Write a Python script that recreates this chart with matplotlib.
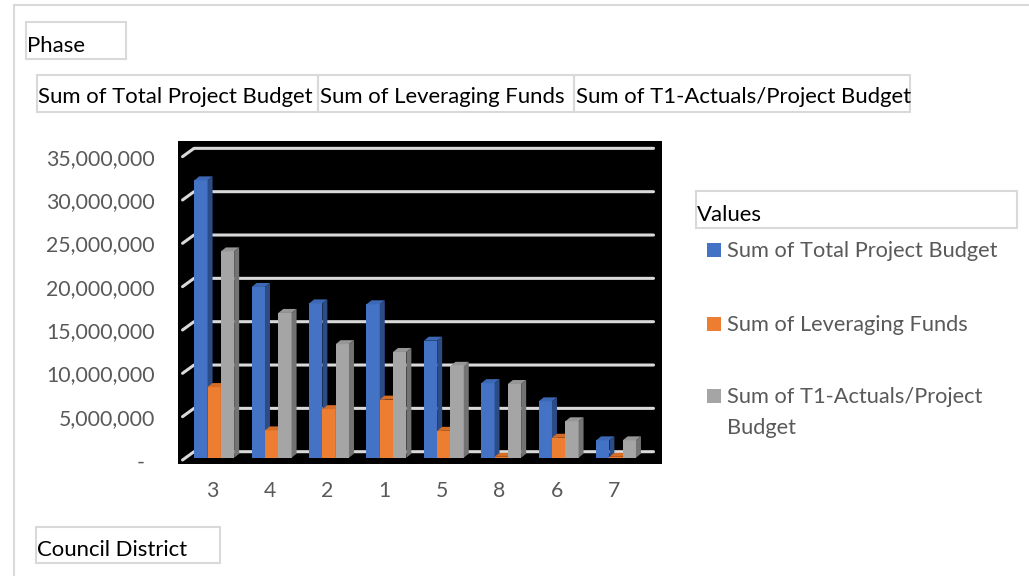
import textwrap
import numpy as np
import matplotlib
matplotlib.use("Agg")
import matplotlib.pyplot as plt
from matplotlib.patches import Rectangle, Polygon
from matplotlib.transforms import ScaledTranslation

# ---------------- data ----------------
categories = ['3', '4', '2', '1', '5', '8', '6', '7']
series_names = ['Sum of Total Project Budget', 'Sum of Leveraging Funds',
                'Sum of T1-Actuals/Project Budget']
total_budget = [32.0e6, 19.7e6, 17.8e6, 17.7e6, 13.5e6, 8.6e6, 6.5e6, 2.0e6]
leveraging = [8.15e6, 3.15e6, 5.6e6, 6.7e6, 3.1e6, 0.1e6, 2.3e6, 0.1e6]
t1_actuals = [23.8e6, 16.7e6, 13.1e6, 12.2e6, 10.6e6, 8.5e6, 4.2e6, 2.0e6]
y_ticks = [0, 5e6, 10e6, 15e6, 20e6, 25e6, 30e6, 35e6]
filter_field = 'Phase'
axis_field = 'Council District'
legend_title = 'Values'

front_colors = ['#4472C4', '#ED7D31', '#A5A5A5']
top_colors = ['#3D68B5', '#D66D27', '#979797']
side_colors = ['#2C4C86', '#A9561D', '#737373']

W, H = 1029, 576
DPI = 100
fig = plt.figure(figsize=(W / DPI, H / DPI), dpi=DPI)
fig.patch.set_facecolor('white')
FONT = 'Lato'
renderer = fig.canvas.get_renderer()


def fx(px):
    return px / W


def fy(py):
    return 1 - py / H


def fit_size(s, target_px):
    t = fig.text(0, 0, s, fontsize=10, family=FONT)
    w = t.get_window_extent(renderer).width
    t.remove()
    return 10 * target_px / w


title_fs = fit_size(series_names[0], 276)
legend_fs = fit_size(series_names[0], 271)
tick_fs = fit_size('35,000,000', 108)

BOX = '#D9D9D9'


def box(x0, y0, x1, y1, lw=1.5):
    fig.add_artist(Rectangle((fx(x0), fy(y1)), (x1 - x0) / W, (y1 - y0) / H,
                             transform=fig.transFigure, fill=False,
                             ec=BOX, lw=lw, zorder=0))


# outer chart border
box(14, 5, 1100, 700, lw=1.5)

# field buttons
box(26, 22, 126, 59)
fig.text(fx(27), fy(51.7), filter_field, family=FONT, fontsize=title_fs,
         color='black', va='baseline', ha='left')

sbox = [(37, 318), (318, 574), (574, 910)]
for (x0, x1), name in zip(sbox, series_names):
    box(x0, 75, x1, 112)
    fig.text(fx(x0 + 1.5), fy(102.7), name, family=FONT, fontsize=title_fs,
             color='black', va='baseline', ha='left')

box(36, 527, 220, 563)
fig.text(fx(37), fy(556), axis_field, family=FONT, fontsize=title_fs,
         color='black', va='baseline', ha='left')

box(696, 191, 1017, 228)
fig.text(fx(697), fy(220.7), legend_title, family=FONT, fontsize=title_fs,
         color='black', va='baseline', ha='left')

# legend entries
leg_tops = [243.3, 317.3, 389.3]
for name, col, top in zip(series_names, front_colors, leg_tops):
    fig.add_artist(Rectangle((fx(707), fy(top + 14)), 14 / W, 14 / H,
                             transform=fig.transFigure, fc=col, ec='none'))
    lines = textwrap.wrap(name, 28, break_on_hyphens=False)
    for k, ln in enumerate(lines):
        fig.text(fx(727.3), fy(top + 13.6 + 31 * k), ln, family=FONT,
                 fontsize=legend_fs, color='#595959', va='baseline', ha='left')

# ---------------- plot area ----------------
ax = fig.add_axes([178 / W, (H - 464) / H, 484 / W, 323 / H])
ax.set_facecolor('black')
for sp in ax.spines.values():
    sp.set_visible(False)
ax.set_xlim(-0.631, 7.801)
ax.set_ylim(-0.727e6, 36.54e6)
ax.set_xticks([])
ax.set_yticks([])


def px_delta(dxp, dyp):
    p0 = ax.transData.transform((0, 0))
    p1 = ax.transData.inverted().transform(p0 + np.array([dxp, dyp]))
    return p1[0], p1[1]


# gridlines (back wall + oblique floor edge)
_, back_dy = px_delta(0, 6)
_, front_dy = px_delta(0, -2.3)
gx_front, gx_back, gx_end = -0.552, -0.352, 7.653
for v in y_ticks:
    ax.plot([gx_front, gx_back, gx_end],
            [v + front_dy, v + back_dy, v + back_dy],
            color='#D9D9D9', lw=2.2, solid_capstyle='round',
            solid_joinstyle='round', zorder=1, clip_on=False)

# 3D-looking clustered columns
n = len(categories)
x = np.arange(n)
w = 0.2317
offsets = [-w, 0.0, w]
ddx, ddy = px_delta(5, 4)
all_series = [total_budget, leveraging, t1_actuals]
for s, vals in enumerate(all_series):
    xs = x + offsets[s]
    ax.bar(xs, vals, width=w, color=front_colors[s], edgecolor='none',
           zorder=3 + 3 * s)
    for xc, v in zip(xs, vals):
        x0, x1 = xc - w / 2, xc + w / 2
        ax.add_patch(Polygon([(x0, v), (x1, v), (x1 + ddx, v + ddy),
                              (x0 + ddx, v + ddy)], closed=True,
                             fc=top_colors[s], ec='none', zorder=4 + 3 * s))
        ax.add_patch(Polygon([(x1, 0), (x1, v), (x1 + ddx, v + ddy),
                              (x1 + ddx, ddy)], closed=True,
                             fc=side_colors[s], ec='none', zorder=5 + 3 * s))

# y tick labels
ytr = ax.get_yaxis_transform()
for v in y_ticks:
    lbl = '-' if v == 0 else f'{v:,.0f}'
    extra = -10 if v == 0 else 0
    ax.text(0, v, lbl, transform=ytr + ScaledTranslation(
        (-23 + extra) / DPI, -4.5 / DPI, fig.dpi_scale_trans),
        ha='right', va='center', family=FONT, fontsize=tick_fs,
        color='#595959', clip_on=False)

# x tick labels
xtr = ax.get_xaxis_transform()
for i, c in enumerate(categories):
    ax.text(i, 0, c, transform=xtr + ScaledTranslation(
        -2 / DPI, -27 / DPI, fig.dpi_scale_trans),
        ha='center', va='center', family=FONT, fontsize=tick_fs,
        color='#595959', clip_on=False)

fig.savefig('out.png', dpi=DPI)
